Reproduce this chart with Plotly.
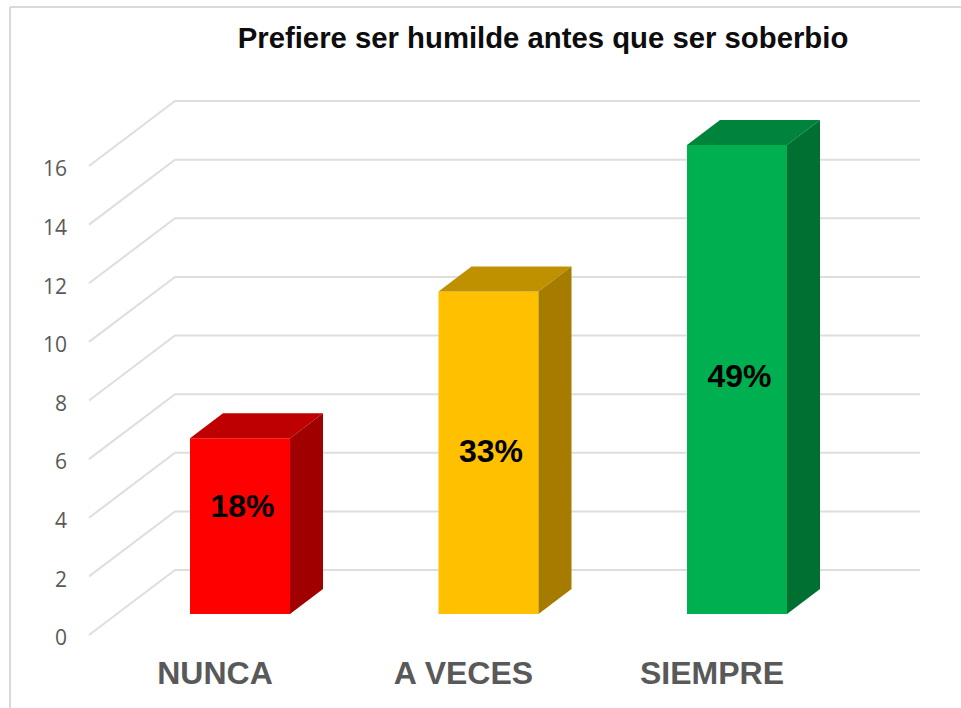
import plotly.graph_objects as go

categories = ["NUNCA", "A VECES", "SIEMPRE"]
values = [6, 11, 16]
pct_labels = ["18%", "33%", "49%"]
label_heights = [4.3, 6.17, 8.73]
front_colors = ["#FF0000", "#FFC000", "#00B050"]
top_colors = ["#BF0000", "#BF9000", "#00843C"]
side_colors = ["#A00000", "#A67C00", "#006F32"]
y_ticks = [0, 2, 4, 6, 8, 10, 12, 14, 16]
title_text = "Prefiere ser humilde antes que ser soberbio"

W, H = 961, 708
ML, MB = 73, 58
PX_PER_X = 248.5
PX_PER_Y = 29.31
X0_PX = 240
Y0_PX = 635

xr = [(ML - X0_PX) / PX_PER_X, (W - X0_PX) / PX_PER_X]
yr = [(Y0_PX - (H - MB)) / PX_PER_Y, Y0_PX / PX_PER_Y]

bar_w = 100 / PX_PER_X
dx = 33 / PX_PER_X
dy = 25 / PX_PER_Y
floor = 21 / PX_PER_Y
wall_dx = 86 / PX_PER_X
wall_dy = 65 / PX_PER_Y
wall_start = (89 - X0_PX) / PX_PER_X
wall_end = (920 - X0_PX) / PX_PER_X
tick_shift = -25 / PX_PER_X

xs = list(range(len(categories)))
fig = go.Figure()

fig.add_trace(go.Bar(
    x=xs, y=values, base=[floor] * len(values), width=bar_w,
    marker=dict(color=front_colors, line=dict(width=0)), hoverinfo="skip",
    showlegend=False,
))

for x, v, tc, sc in zip(xs, values, top_colors, side_colors):
    l, r = x - bar_w / 2, x + bar_w / 2
    t = floor + v
    fig.add_trace(go.Scatter(
        x=[l, r, r + dx, l + dx, l], y=[t, t, t + dy, t + dy, t],
        mode="lines", fill="toself", fillcolor=tc, line=dict(width=0),
        hoverinfo="skip", showlegend=False))
    fig.add_trace(go.Scatter(
        x=[r, r + dx, r + dx, r, r], y=[floor, floor + dy, t + dy, t, floor],
        mode="lines", fill="toself", fillcolor=sc, line=dict(width=0),
        hoverinfo="skip", showlegend=False))

fig.add_trace(go.Scatter(
    x=[x + 2.5 / PX_PER_X for x in xs], y=label_heights, mode="text", text=pct_labels,
    textposition="middle center",
    textfont=dict(family="Liberation Sans", size=32, color="#000000", weight="bold"),
    hoverinfo="skip", showlegend=False))

shapes = []
for tv in y_ticks:
    shapes.append(dict(
        type="path", xref="x", yref="y", layer="below",
        path=f"M {wall_start} {tv} L {wall_start + wall_dx} {tv + wall_dy} L {wall_end} {tv + wall_dy}",
        line=dict(color="#DEDEDE", width=2)))

# outer frame of the picture (left and top edges)
fx = lambda px: (px - ML) / (W - ML)
fy = lambda px: 1 - px / (H - MB)
shapes.append(dict(type="line", xref="paper", yref="paper", x0=fx(10), x1=fx(10), y0=fy(7), y1=fy(H),
                   line=dict(color="#D9D9D9", width=2)))
shapes.append(dict(type="line", xref="paper", yref="paper", x0=fx(10), x1=fx(W), y0=fy(7), y1=fy(7),
                   line=dict(color="#D9D9D9", width=2)))

fig.update_layout(
    width=W, height=H,
    margin=dict(l=ML, r=0, t=0, b=MB, pad=0),
    paper_bgcolor="white", plot_bgcolor="white",
    showlegend=False, shapes=shapes,
    title=dict(text=title_text, x=543 / W, xanchor="center", y=1 - 38 / H, yanchor="middle",
               font=dict(family="Liberation Sans", size=29.3, color="#0D0D0D", weight="bold")),
    xaxis=dict(range=xr, showgrid=False, zeroline=False, showline=False,
               tickmode="array", tickvals=[x + tick_shift for x in xs], ticktext=categories,
               ticks="", ticklabelstandoff=1,
               tickfont=dict(family="Liberation Sans", size=32, color="#595959", weight="bold")),
    yaxis=dict(range=yr, showgrid=False, zeroline=False, showline=False,
               tickmode="array", tickvals=y_ticks, ticks="", ticklabelstandoff=5, ticklabelshift=3,
               tickfont=dict(family="Open Sans", size=21, color="#595959")),
)

fig.write_html("out.html", config=dict(displayModeBar=False),
               post_script="document.body.style.margin='0';")
